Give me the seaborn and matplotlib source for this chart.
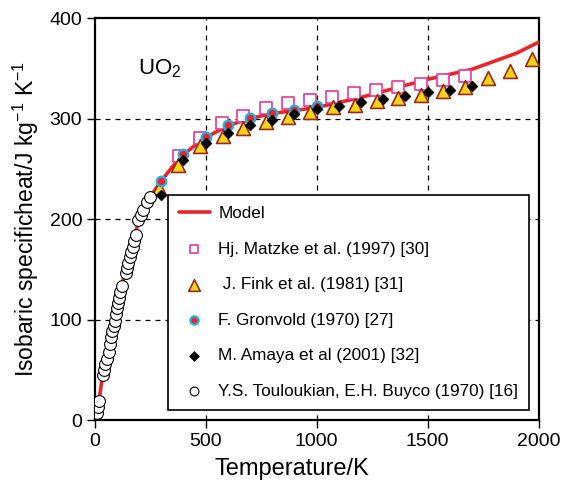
import matplotlib
matplotlib.use("Agg")
import matplotlib.pyplot as plt
import seaborn as sns
import pandas as pd

# ---------------- data ----------------
model_T = [5, 12, 20, 30, 40, 50, 75, 100, 125, 150, 175, 200, 250, 300, 350, 400,
           450, 500, 550, 600, 700, 800, 900, 1000, 1100, 1200, 1300, 1400, 1500,
           1600, 1700, 1800, 1900, 2000]
model_cp = [2, 8, 20, 36, 48, 57, 82, 108, 137, 155, 179, 200, 222, 238, 252, 264,
            273, 281, 287, 293, 300, 305, 308, 311, 316, 321, 327, 333, 339,
            344, 349, 357, 365, 376]

matzke_T = [378, 475, 572, 670, 772, 870, 970, 1070, 1168, 1267, 1368, 1468, 1570, 1668]
matzke_cp = [263, 281, 296, 303, 310, 315, 318, 321, 325, 328, 331, 334, 338, 342]

fink_T = [291, 377, 474, 577, 670, 772, 872, 970, 1072, 1172, 1270, 1368, 1468,
          1570, 1668, 1773, 1870, 1968]
fink_cp = [231, 254, 273, 283, 291, 297, 302, 306, 311, 313, 317, 320, 323,
           327, 331, 340, 347, 359]

gron_T = [298, 400, 500, 600, 700, 800, 900, 1000]
gron_cp = [238, 265, 282, 294, 301, 305, 308, 312]

amaya_T = [300, 400, 500, 600, 700, 800, 900, 1000, 1100, 1200, 1300, 1400, 1500, 1600, 1700]
amaya_cp = [224, 259, 276, 286, 294, 299, 304, 309, 312, 316, 319, 322, 326, 328, 332]

toul_T = [12, 15, 19, 37, 42, 48, 55, 63, 70, 74, 79, 86, 91, 97, 102, 106, 111, 115,
          122, 141, 147, 151, 158, 165, 172, 179, 186, 196, 207, 219, 234, 249]
toul_cp = [7, 13, 19, 45, 50, 56, 61, 68, 76, 83, 89, 94, 99, 105, 111, 116, 121, 127,
           133, 146, 151, 156, 162, 167, 172, 178, 184, 199, 204, 209, 217, 222]

labels = ["Model",
          "Hj. Matzke et al. (1997) [30]",
          " J. Fink et al. (1981) [31]",
          "F. Gronvold (1970) [27]",
          "M. Amaya et al (2001) [32]",
          "Y.S. Touloukian, E.H. Buyco (1970) [16]"]

x_ticks = [0, 500, 1000, 1500, 2000]
y_ticks = [0, 100, 200, 300, 400]

# ---------------- style ----------------
sns.set_theme(style="white")
plt.rcParams["font.family"] = ["Liberation Sans", "DejaVu Sans"]
plt.rcParams["mathtext.default"] = "regular"
plt.rcParams["text.color"] = "black"

fig = plt.figure(figsize=(5.62, 4.91), dpi=100)
ax = fig.add_axes([0.1685, 0.1446, 0.790, 0.8187])

df_model = pd.DataFrame({"T": model_T, "cp": model_cp})
sns.lineplot(data=df_model, x="T", y="cp", ax=ax, color="#e8262a", lw=2.6,
             label=labels[0], sort=False, estimator=None, zorder=3)

sns.scatterplot(x=matzke_T, y=matzke_cp, ax=ax, marker="s", s=72,
                color="white", edgecolor="#e8379a", linewidth=1.2,
                label=labels[1], zorder=4)
sns.scatterplot(x=fink_T, y=fink_cp, ax=ax, marker="^", s=100,
                color="#f7d416", edgecolor="#9a2a1c", linewidth=1.2,
                label=labels[2], zorder=5)
sns.scatterplot(x=gron_T, y=gron_cp, ax=ax, marker="o", s=48,
                color="#e8262a", edgecolor="#1fb0e6", linewidth=1.6,
                label=labels[3], zorder=6)
sns.scatterplot(x=amaya_T, y=amaya_cp, ax=ax, marker="D", s=30,
                color="black", edgecolor="black", linewidth=0.5,
                label=labels[4], zorder=7)
sns.scatterplot(x=toul_T, y=toul_cp, ax=ax, marker="o", s=72,
                color="white", edgecolor="black", linewidth=0.8,
                label=labels[5], zorder=8)

ax.set_xlim(0, 2000)
ax.set_ylim(0, 400)
ax.set_xticks(x_ticks)
ax.set_yticks(y_ticks)
ax.tick_params(axis="both", which="major", direction="out", length=6, width=1,
               labelsize=14, color="black", labelcolor="black", pad=3,
               bottom=True, left=True)

for xv in x_ticks[1:-1]:
    ax.axvline(xv, color="black", lw=0.9, ls=(0, (4, 4)), zorder=1)
for yv in y_ticks[1:-1]:
    ax.axhline(yv, color="black", lw=0.9, ls=(0, (4, 4)), zorder=1)

for sp in ax.spines.values():
    sp.set_color("black")
    sp.set_linewidth(1.6)

ax.set_xlabel("Temperature/K", fontsize=17, color="black")
ax.xaxis.set_label_coords(0.445, -0.095)
ax.set_ylabel("Isobaric specificheat/J kg$^{-1}$ K$^{-1}$", fontsize=16.5,
              color="black", labelpad=6)

ax.text(0.098, 0.875, "UO$_2$", transform=ax.transAxes, fontsize=16,
        color="black", ha="left", va="center")

leg = ax.legend(loc="lower left", bbox_to_anchor=(0.165, 0.025), fontsize=12.3,
                frameon=True, fancybox=False, shadow=False, framealpha=1,
                edgecolor="black", labelspacing=1.2, handlelength=1.8,
                handletextpad=0.5, borderpad=0.65, borderaxespad=0,
                labelcolor="black")
leg.get_frame().set_linewidth(1.2)
leg.set_zorder(10)
legend_sizes = [40, 70, 35, 25, 40]
for h, sz in zip(leg.legend_handles[1:], legend_sizes):
    try:
        h.set_sizes([sz])
    except Exception:
        pass

fig.savefig("out.png", dpi=100)
